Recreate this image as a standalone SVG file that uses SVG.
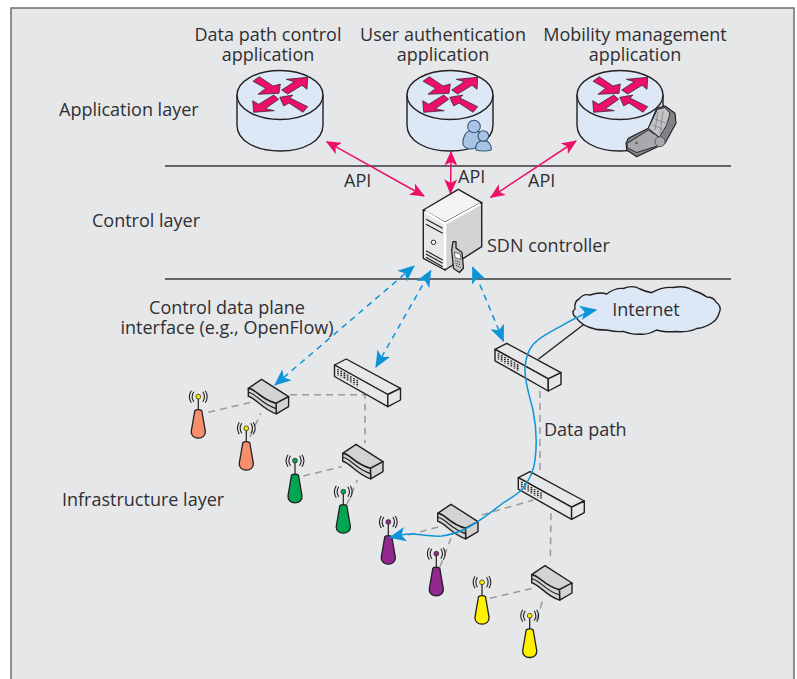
<svg xmlns="http://www.w3.org/2000/svg" width="797" height="679" viewBox="0 0 797 679">
<style>
text{font-family:"Open Sans","Noto Sans","Liberation Sans",sans-serif;font-size:18px;fill:#2f2f33}
.m{text-anchor:middle}
.o{stroke:#231f20;stroke-width:1.4;stroke-linejoin:round;stroke-linecap:round}
.rb{fill:#dce8f6}
.ar{fill:#ec1068;stroke:#231f20;stroke-width:.7;stroke-linejoin:round}
.sw{fill:#e6e7e9}
.st{fill:#d2d3d5}
.gd{fill:none;stroke:#9a9b9d;stroke-width:1.5;stroke-dasharray:7 5}
.pk{fill:none;stroke:#ec1068;stroke-width:1.5}
.bd{fill:none;stroke:#0d94d8;stroke-width:1.5;stroke-dasharray:6 5}
.bl{fill:none;stroke:#0d94d8;stroke-width:1.5}
.wave{fill:none;stroke:#231f20;stroke-width:1.1}
.stem{stroke:#231f20;stroke-width:1.2;fill:none}
.dot{stroke:#231f20;stroke-width:.7}
</style>
<defs>
<marker id="mp" viewBox="0 0 14 12" refX="13" refY="6" markerWidth="15" markerHeight="13" markerUnits="userSpaceOnUse" orient="auto-start-reverse"><path d="M0 0L14 6L0 12L3.500 6Z" fill="#ec1068"/></marker>
<marker id="mb" viewBox="0 0 14 12" refX="13" refY="6" markerWidth="17" markerHeight="15" markerUnits="userSpaceOnUse" orient="auto-start-reverse"><path d="M0 0L14 6L0 12L3.500 6Z" fill="#0d94d8"/></marker>
<g id="router">
<path class="o rb" d="M0 25V55C0 71 19 81 43 81S86 71 86 55V25Z"/>
<ellipse class="o rb" cx="43" cy="25" rx="43" ry="24.500"/>
<g class="ar">
<path d="M16 11.300L22.300 6.700L36 16L43.300 14L42 23.300L21 24.300L28.700 18.300Z"/>
<path d="M44.700 20L57.300 11.700L49.300 9.300L70.700 7.300L70 19.300L65 15.300L50.700 24Z"/>
<path d="M16.700 42.300L15.700 30.700L21.700 34.300L36.700 25L41.700 29.300L28.300 38.700L37.300 40.700Z"/>
<path d="M42.700 27.300L56 25L53 28L70.700 36.700L66 42.300L52 33L46.700 36Z"/>
</g>
</g>
<g id="hub">
<path class="o sw" d="M0 6L11.700 0L66 29.300L53.300 35.500Z"/>
<path class="o sw" d="M0 6V17.500L53.300 47.700V35.500Z"/>
<path class="o sw" d="M53.300 35.500L66 29.300V41L53.300 47.700Z"/>
<path d="M3.500 10V16.500M6.700 11.800V18.300M9.900 13.600V20.100M13.100 15.400V21.900M16.300 17.200V23.700M19.500 19V25.500M22.700 20.800V27.300" stroke="#231f20" stroke-width="1.700" stroke-dasharray="1.300 .7"/>
</g>
<g id="router2">
<path class="o st" d="M0 9L13.300 0L40.300 17.300L27.700 24C12 20 8 10 0 9Z"/>
<path class="o st" d="M27.700 24L40.300 17.300V27.300L28 34.500Z"/>
<path class="o st" d="M0 9C8 10 12 20 27.700 24L28 34.500C14 30 8 19 0 17Z"/>
<path class="wave" d="M0 13C8 14 13 25 28 29.300"/>
</g>
<g id="wave"><path d="M-4.500 -5C-6.500 -2 -6.500 2 -4.500 5M4.500 -5C6.500 -2 6.500 2 4.500 5M-7 -6C-9.500 -2 -9.500 2 -7 6M7 -6C9.500 -2 9.500 2 7 6" class="wave"/></g>
<path id="body" d="M-3.500 0C-2 -1.500 2 -1.500 3.500 0L7 20.500C7.500 25 4 27.500 0 27.500S-7.500 25 -7 20.500Z" stroke="#231f20" stroke-width="1.300"/>
</defs>
<rect x="0" y="0" width="797" height="679" fill="#fff"/>
<rect x="11" y="8" width="783" height="680" fill="#e6e7e9" stroke="#6d6e71" stroke-width="1.500"/>

<g id="layer-lines">
<path d="M165 166H731M165 279H731" stroke="#3a3a3d" stroke-width="1.300" fill="none"/>
</g>

<g id="connectors">
<path class="gd" d="M208.300 412.300L253.300 401.700M250 437L260.700 413.300M290 394.700H365V443.300M303.300 476L341.700 466.700M346.700 505L357.300 480"/>
<path class="gd" d="M408.300 535L441.700 526M440 566.700L451 538.300M481.700 515L533.300 500M551 513.300L550.300 561.700M490 598.300L536.700 587.300M536.700 620L543.300 598.300M540 391V472"/>
<path class="pk" d="M326.700 141.700L424 196" marker-start="url(#mp)" marker-end="url(#mp)"/>
<path class="pk" d="M451 151.700L450.500 193.300" marker-start="url(#mp)" marker-end="url(#mp)"/>
<path class="pk" d="M576 141L490.700 197.300" marker-start="url(#mp)" marker-end="url(#mp)"/>
<path class="bd" d="M275 385L414 266" marker-start="url(#mb)" marker-end="url(#mb)"/>
<path class="bd" d="M376 367L430.700 270.700" marker-start="url(#mb)" marker-end="url(#mb)"/>
<path class="bd" d="M503.300 341L472.700 267.300" marker-start="url(#mb)" marker-end="url(#mb)"/>
<path d="M538.300 359.300L587.300 321.700" stroke="#231f20" stroke-width="1.400" fill="none"/>
</g>

<g id="cloud-internet">
<path class="o rb" d="M576.700 318.300C572 315 572 311 575 309C574 303 577 300 579 299C582 295 586 294 590 295C596 293 601 292 606.700 294C612 290 618 288 623.300 288.500C629 286 635 286 640 289C644 291 648 292 651.700 292.700C658 289 666 287 673.300 287.500C681 286 688 287 693.300 290.500C698 292 703 294 706.700 297C711 297 714 298 716 302C720 305 721 309 719.300 312.500C718 317 716 320 713.300 322C708 326 702 328 696.700 328.500C690 332 683 332 676.700 331.500C670 332 662 332 656.700 330C651 333 645 335 640 334C634 335 628 333 623.300 331.500C618 332 611 331 606.700 330C601 330 597 330 593.300 328.500C587 327 580 323 576.700 318.300Z"/>
<text class="m" x="646" y="316">Internet</text>
</g>

<g id="app-datapath"><use href="#router" x="237" y="70"/></g>
<g id="app-auth"><use href="#router" x="407" y="70"/>
<g fill="#a9c4e4" stroke="#34567a" stroke-width="1.100">
<path d="M463 145C462 138 466 131 470 131L478 131C481 132 482 135 481 140L475 148C470 150 466 149 463 145Z"/>
<circle cx="474" cy="126.500" r="6.300"/>
<path d="M476 150C475 145 478 142 480 141L487 141C490 143 492 147 491 150C487 151 480 151 476 150Z"/>
<circle cx="483.300" cy="136" r="5.300"/>
</g>
</g>
<g id="app-mobility"><use href="#router" x="577" y="70"/>
<path d="M626 143.300L628.300 138.300L648.300 128.300L656.700 108.300L665 106L675 113.300L676 123.300L665 143.300L636.700 156.700L626.700 150Z" fill="#808285" stroke="#231f20" stroke-width="1.100" stroke-linejoin="round"/>
<path d="M627 143.500L648.300 130L657.500 136L657.500 146L636.700 152.500L627.500 148Z" fill="#a7a9ac" stroke="#231f20" stroke-width=".9" stroke-linejoin="round"/>
<path d="M648.300 128.300L657.300 109.500L665 107.500L670 113.300L666.700 125L659.300 137.300Z" fill="#c2c4c6" stroke="#231f20" stroke-width=".9" stroke-linejoin="round"/>
<path d="M655 119L668 124M652.500 125L664.500 130M658 112L655 130M663 111L660 134" stroke="#808285" stroke-width=".8"/>
<circle cx="660" cy="141.700" r="5" fill="#a7a9ac" stroke="#58595b"/>
<circle cx="636.500" cy="143" r="1.300" fill="#58595b"/>
</g>

<g id="sdn-controller">
<path class="o" fill="#f4f4f5" d="M423.300 210L458.300 189.300L481.700 202.700L445 222.700Z"/>
<path class="o" fill="#d2d3d5" d="M445 222.700L481.700 202.700V246.700L445 270Z"/>
<path class="o" fill="#e6e7e9" d="M423.300 210L445 222.700V270L423.300 258.300Z"/>
<path d="M425 211.500L445 223.500L480.500 204M445 224V268.500" stroke="#fff" stroke-width="2.500" fill="none"/>
<path d="M426 219.300L442.700 228.300M426 224.300L442.700 233.300M426 250.700L442.700 260M426 254L442.700 263.300M426 257.300L442.700 266.700" stroke="#231f20" stroke-width="1.100"/>
<circle cx="433.500" cy="242.300" r="2.200" fill="#fff" stroke="#231f20"/>
<path d="M453 241.700H456V248L462 252.500L463.500 268L459.500 272.500L453.500 268.500L451.700 250Z" fill="#c2c4c6" stroke="#231f20" stroke-width="1.300" stroke-linejoin="round"/>
<path d="M454.500 252L460.500 254.500L460.800 259.500L455 257.500Z" fill="#fff" stroke="#231f20" stroke-width=".6"/>
<path d="M455.500 260.500L460.500 262.500M455.500 263L460.500 265M456 265.500L460.500 267.500" stroke="#231f20" stroke-width="1" stroke-dasharray="1 1"/>
</g>

<g id="sw-1"><use href="#router2" x="248.300" y="379.300"/></g>
<g id="sw-2"><use href="#hub" x="334.500" y="359"/></g>
<g id="sw-3"><use href="#router2" x="342.700" y="444.300"/></g>
<g id="sw-4"><use href="#hub" x="495" y="343.300"/></g>
<g id="sw-5"><use href="#hub" x="518.300" y="471.700"/></g>
<g id="sw-6"><use href="#router2" x="437.700" y="504.300"/></g>
<g id="sw-7"><use href="#router2" x="531.700" y="565.700"/></g>

<g id="ap-1"><path class="stem" d="M198.300 396.700V411"/><use href="#body" x="198.300" y="410.700" fill="#f58f6e"/><use href="#wave" x="198.300" y="396.700"/><circle class="dot" cx="198.300" cy="396.700" r="2.400" fill="#ffe600"/></g>
<g id="ap-2"><path class="stem" d="M246.300 428.300V443"/><use href="#body" x="246.300" y="442.700" fill="#f58f6e"/><use href="#wave" x="246.300" y="428.300"/><circle class="dot" cx="246.300" cy="428.300" r="2.400" fill="#ffe600"/></g>
<g id="ap-3"><path class="stem" d="M295 460.700V475"/><use href="#body" x="295" y="475.300" fill="#00a651"/><use href="#wave" x="295" y="460.700"/><circle class="dot" cx="295" cy="460.700" r="2.400" fill="#00a651"/></g>
<g id="ap-4"><path class="stem" d="M343.300 491.700V506"/><use href="#body" x="343.300" y="505.700" fill="#00a651"/><use href="#wave" x="343.300" y="491.700"/><circle class="dot" cx="343.300" cy="491.700" r="2.400" fill="#00a651"/></g>
<g id="ap-5"><path class="stem" d="M388.300 522V537"/><use href="#body" x="388.300" y="536.700" fill="#92278f"/><use href="#wave" x="388.300" y="522"/><circle class="dot" cx="388.300" cy="522" r="2.400" fill="#92278f"/></g>
<g id="ap-6"><path class="stem" d="M436.300 553.700V568"/><use href="#body" x="436.300" y="568.300" fill="#92278f"/><use href="#wave" x="436.300" y="553.700"/><circle class="dot" cx="436.300" cy="553.700" r="2.400" fill="#92278f"/></g>
<g id="ap-7"><path class="stem" d="M482 582.300V597"/><use href="#body" x="482" y="596.700" fill="#fff200"/><use href="#wave" x="482" y="582.300"/><circle class="dot" cx="482" cy="582.300" r="2.400" fill="#fff200"/></g>
<g id="ap-8"><path class="stem" d="M529.700 615.700V630"/><use href="#body" x="529.700" y="630" fill="#fff200"/><use href="#wave" x="529.700" y="615.700"/><circle class="dot" cx="529.700" cy="615.700" r="2.400" fill="#fff200"/></g>

<g id="data-path-line">
<path class="bl" d="M596 310C585 312 570 321 560 326.700C552 331 543 336 538 340C531 345 526 355 525 367C524 380 530 398 533 410C536 425 537 445 535 460C534 470 528 482 521.700 490C515 496 509 499 503 503C495 509 488 515 480 520C474 524 470 527 463 530C456 533 450 535 441.700 536C431 537 420 534 410 534C403 534 397 536 390 537.500" marker-start="url(#mb)" marker-end="url(#mb)"/>
</g>

<g id="labels">
<text class="m" x="268" y="41">Data path control</text>
<text class="m" x="268" y="61">application</text>
<text class="m" x="443" y="41">User authentication</text>
<text class="m" x="443" y="61">application</text>
<text class="m" x="635" y="41">Mobility management</text>
<text class="m" x="635" y="61">application</text>
<text x="59" y="116">Application layer</text>
<text x="92" y="227">Control layer</text>
<text class="m" x="227" y="314">Control data plane</text>
<text class="m" x="227" y="334">interface (e.g., OpenFlow)</text>
<text x="62" y="506">Infrastructure layer</text>
<text x="544" y="436">Data path</text>
<text x="487" y="252">SDN controller</text>
<text x="344" y="187">API</text>
<text x="458" y="183">API</text>
<text x="528" y="187">API</text>
</g>
</svg>
